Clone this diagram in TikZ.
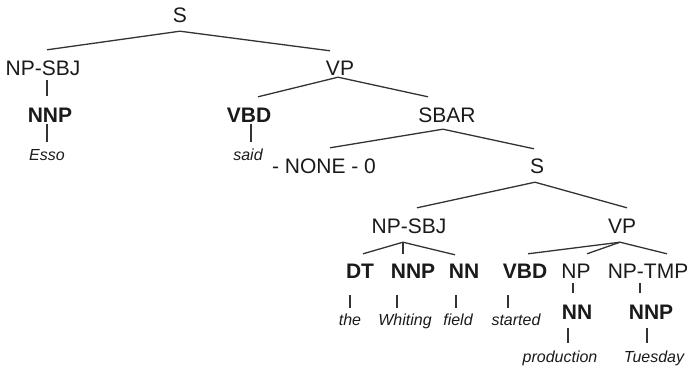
\documentclass[tikz,border=0pt]{standalone}
\usepackage{fontspec}
\setmainfont{Liberation Sans}
\usetikzlibrary{calc}
\definecolor{ink}{HTML}{1A1A1A}
\definecolor{branch}{HTML}{333333}
\begin{document}
\begin{tikzpicture}[x=1pt,y=-1pt,
  lab/.style={font=\fontsize{21}{21}\selectfont, text=ink, inner sep=0pt,
    anchor=base, text height=15pt, text depth=0pt},
  tag/.style={lab, font=\fontsize{21}{21}\selectfont\bfseries},
  word/.style={font=\fontsize{16}{16}\selectfont\itshape, text=ink, inner sep=0pt,
    anchor=base, text height=12pt, text depth=3.5pt},
  branchline/.style={draw=branch, line width=1.3pt}]
\useasboundingbox (0,0) rectangle (687,367);

% labels of the tree
\node[lab]  (s0)      at (180,22)  {S};
\node[lab]  (npsbj1)  at (43,75)   {NP-SBJ};
\node[lab]  (vp1)     at (340,75)  {VP};
\node[tag]  (nnp2)    at (50,122)  {NNP};
\node[tag]  (vbd2)    at (249,122) {VBD};
\node[lab]  (sbar)    at (447,122) {SBAR};
\node[word] (esso)    at (47,160)  {Esso};
\node[word] (said)    at (248,160) {said};
\node[lab]  (none)    at (324,173) {- NONE - 0};
\node[lab]  (s3)      at (537,173) {S};
\node[lab]  (npsbj4)  at (409,233) {NP-SBJ};
\node[lab]  (vp4)     at (622,233) {VP};
\node[tag]  (dt)      at (360,278) {DT};
\node[tag]  (nnp5)    at (413,278) {NNP};
\node[tag]  (nn5)     at (464,278) {NN};
\node[tag]  (vbd5)    at (525,278) {VBD};
\node[lab]  (np5)     at (576,278) {NP};
\node[lab]  (nptmp)   at (648,278) {NP-TMP};
\node[word] (the)     at (350,325) {the};
\node[word] (whiting) at (405,325) {Whiting};
\node[word] (field)   at (458,325) {field};
\node[word] (started) at (516,325) {started};
\node[tag]  (nn6)     at (577,319) {NN};
\node[tag]  (nnp6)    at (651,319) {NNP};
\node[word] (prod)    at (560,362) {production};
\node[word] (tues)    at (654,362) {Tuesday};

% branches
\draw[branchline] ($(s0.south)+(0,9)$) -- ($(npsbj1.north)+(4,-10)$);
\draw[branchline] ($(s0.south)+(0,9)$) -- ($(vp1.north)+(-10,-9)$);
\draw[branchline] ($(npsbj1.south)+(4,5)$) -- ($(nnp2.north)+(-3,-11)$);
\draw[branchline] ($(nnp2.south)+(-3,2)$) -- ($(esso.north)+(0,-6)$);
\draw[branchline] ($(vp1.south)+(-2,2)$) -- ($(vbd2.north)+(9,-10)$);
\draw[branchline] ($(vp1.south)+(-2,2)$) -- ($(sbar.north)+(-19,-10)$);
\draw[branchline] ($(vbd2.south)+(2,2)$) -- ($(said.north)+(3,-6)$);
\draw[branchline] ($(sbar.south)+(-4,7)$) -- ($(none.north)+(6,-10)$);
\draw[branchline] ($(sbar.south)+(-4,7)$) -- ($(s3.north)+(-3,-9)$);
\draw[branchline] ($(s3.south)+(-2,9)$) -- ($(npsbj4.north)+(8,-10)$);
\draw[branchline] ($(s3.south)+(-2,9)$) -- ($(vp4.north)+(5,-10)$);
\draw[branchline] ($(npsbj4.south)+(-6,9)$) -- ($(dt.north)+(3,-9)$);
\draw[branchline] ($(npsbj4.south)+(-6,9)$) -- ($(nnp5.north)+(-10,-9)$);
\draw[branchline] ($(npsbj4.south)+(-6,9)$) -- ($(nn5.north)+(-9,-8)$);
\draw[branchline] ($(vp4.south)+(-2,9)$) -- ($(vbd5.north)+(3,-9)$);
\draw[branchline] ($(vp4.south)+(-2,9)$) -- ($(np5.north)+(11,-9)$);
\draw[branchline] ($(vp4.south)+(-2,9)$) -- ($(nptmp.north)+(19,-9)$);
\draw[branchline] ($(dt.south)+(-10,17)$) -- ($(the.north)+(0,-5)$);
\draw[branchline] ($(nnp5.south)+(-16,17)$) -- ($(whiting.north)+(-8,-5)$);
\draw[branchline] ($(nn5.south)+(-8,17)$) -- ($(field.north)+(-2,-5)$);
\draw[branchline] ($(vbd5.south)+(-17,17)$) -- ($(started.north)+(-8,-5)$);
\draw[branchline] ($(np5.south)+(-3,5)$) -- ($(nn6.north)+(-4,-11)$);
\draw[branchline] ($(nptmp.south)+(-8,5)$) -- ($(nnp6.north)+(-11,-11)$);
\draw[branchline] ($(nn6.south)+(-9,9)$) -- ($(prod.north)+(8,-7)$);
\draw[branchline] ($(nnp6.south)+(-4,9)$) -- ($(tues.north)+(-7,-7)$);
\end{tikzpicture}
\end{document}
